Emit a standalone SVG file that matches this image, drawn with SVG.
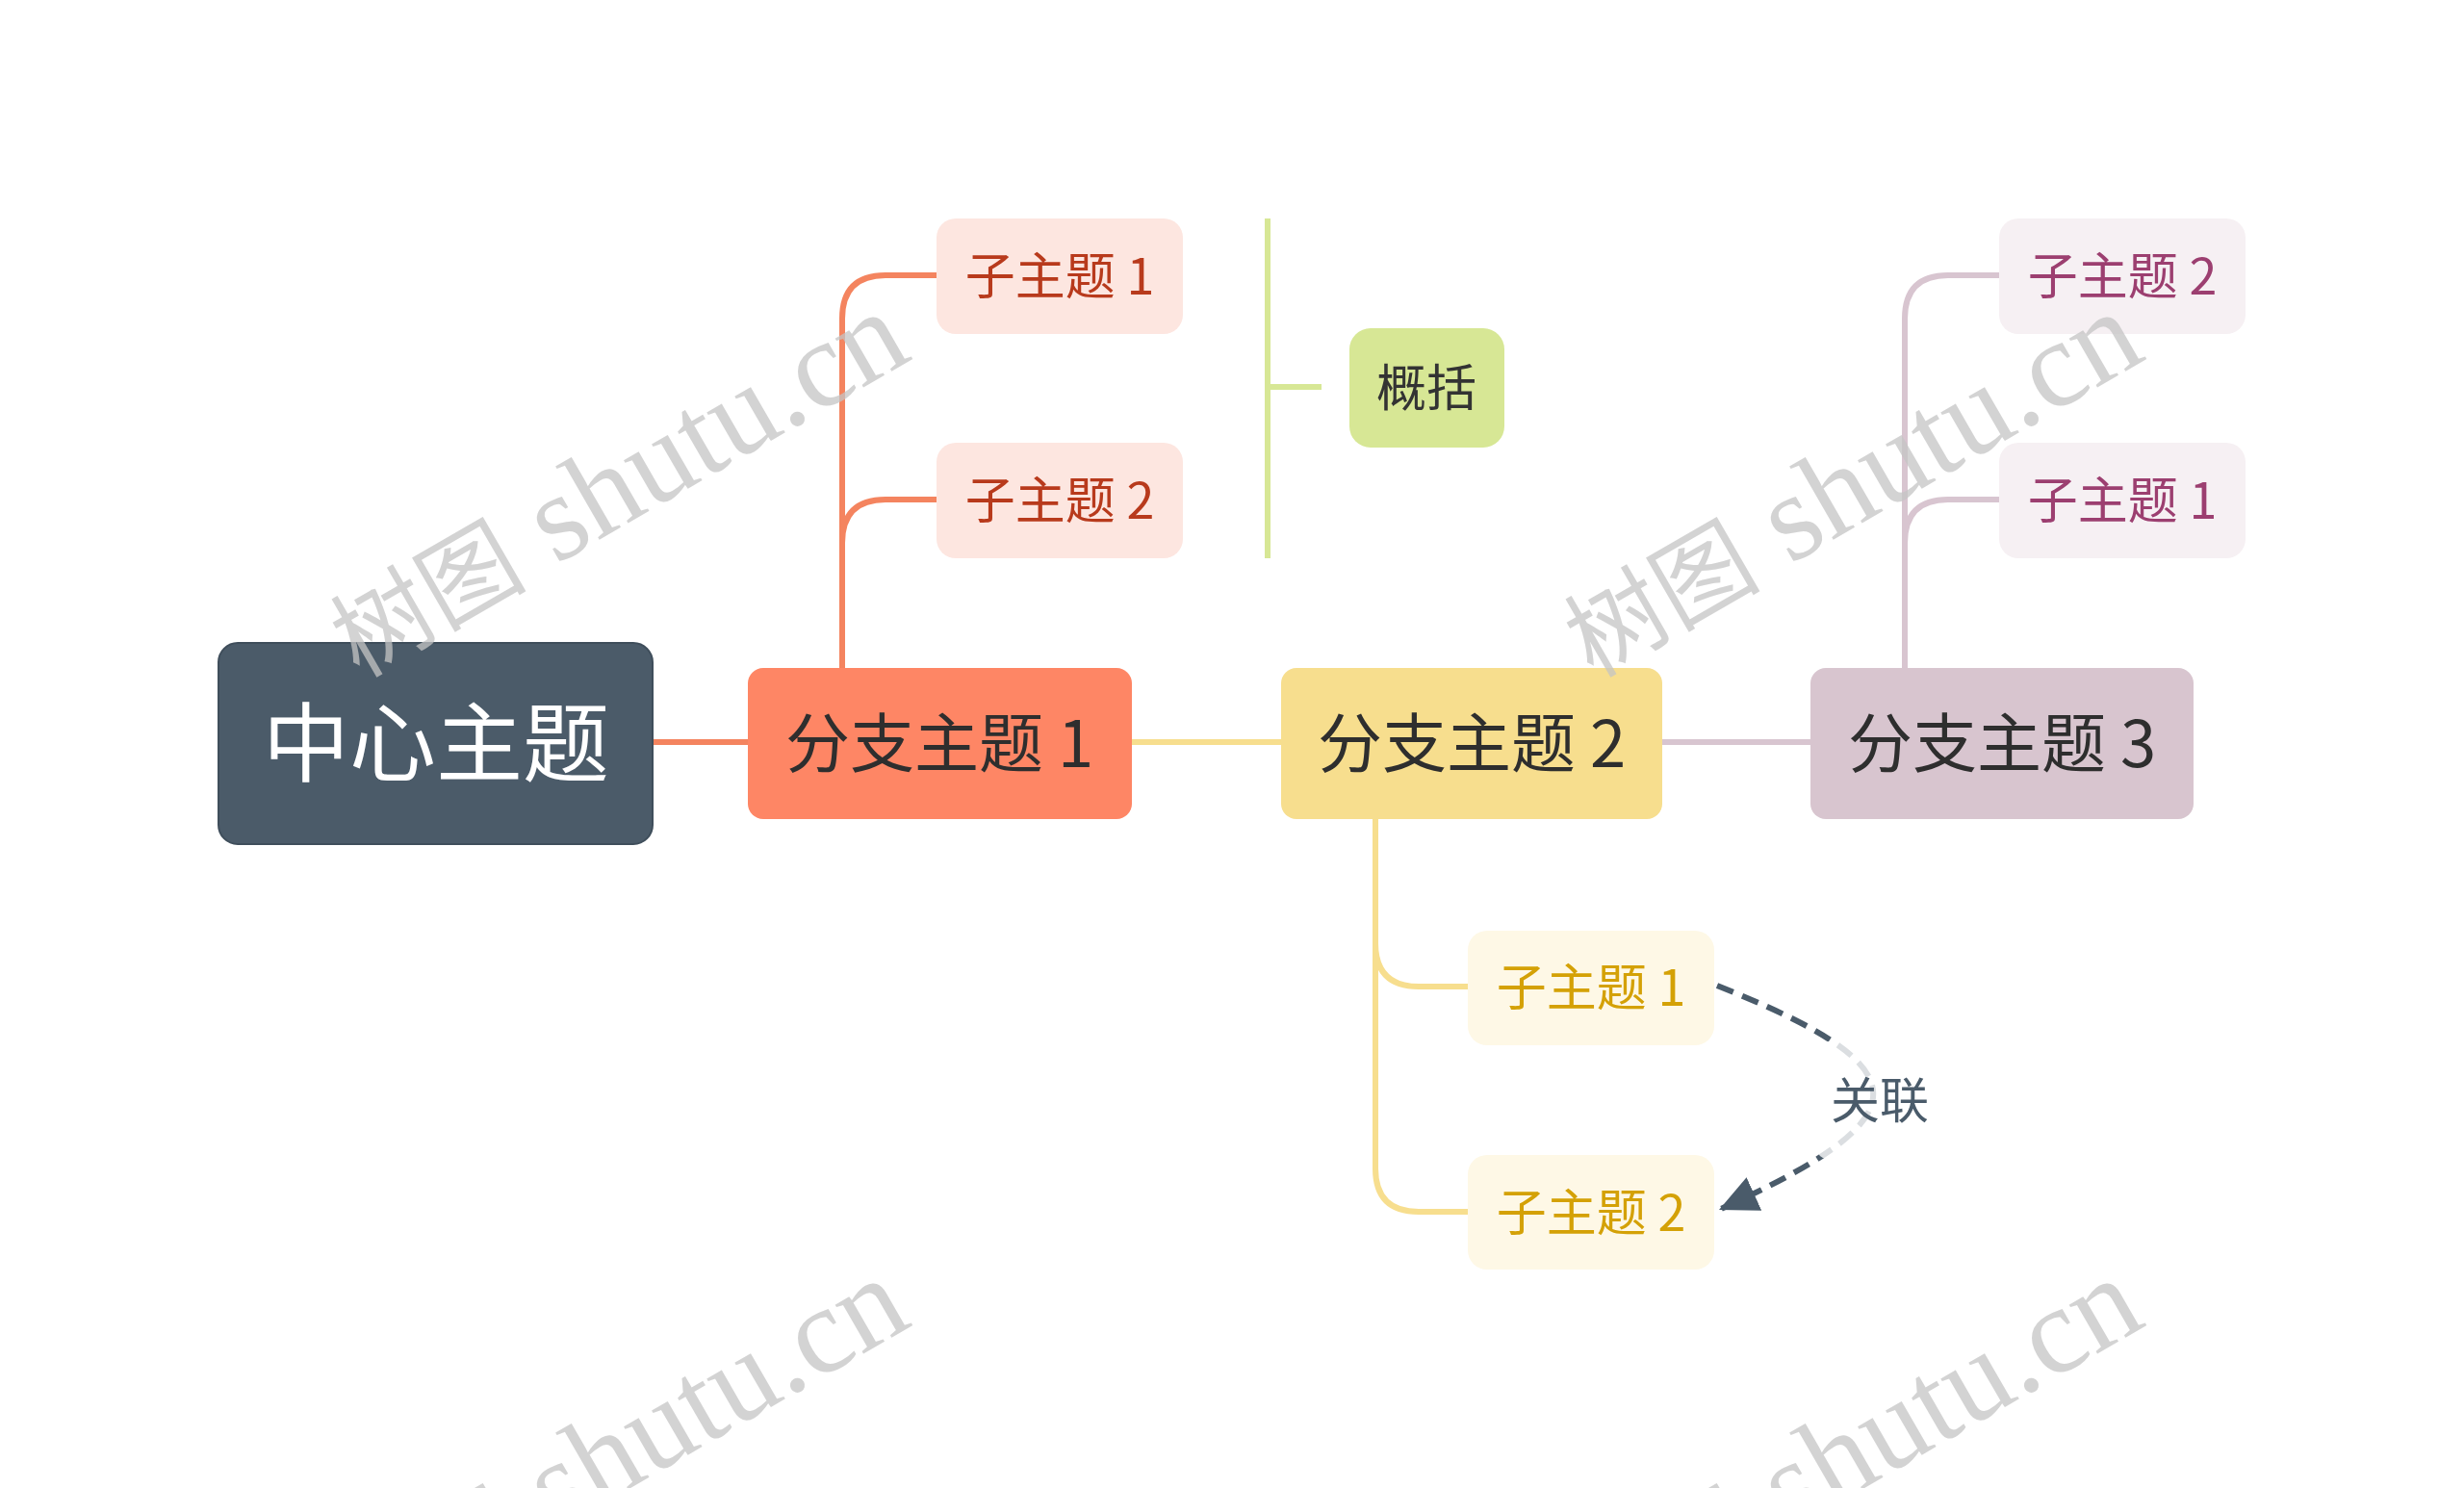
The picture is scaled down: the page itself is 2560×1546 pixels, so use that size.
<svg xmlns="http://www.w3.org/2000/svg" width="2560" height="1546" viewBox="0 0 2560 1546">
<style>
.t{font-family:"Noto Sans CJK SC","Noto Sans",sans-serif;text-anchor:middle}
.ln{fill:none;stroke-width:6;stroke-linecap:butt}
.wm{font-family:"Liberation Serif","Noto Sans CJK SC",serif;fill:#c4c4c4;fill-opacity:0.75}
.wc{font-size:102px}
.wl{font-size:128px}
</style>
<defs>
<marker id="arr" markerUnits="userSpaceOnUse" markerWidth="42" markerHeight="38" refX="40" refY="19" orient="auto">
<path d="M0,0 L40,19 L0,38 Z" fill="#4a5b6a"/>
</marker>
</defs>
<rect width="2560" height="1546" fill="#ffffff"/>
<g id="connectors">
<path class="ln" stroke="#f4845f" d="M678 771 H777"/>
<path class="ln" stroke="#f7de8e" d="M1176 771 H1331"/>
<path class="ln" stroke="#d8c5d0" d="M1727 771 H1881"/>
<path class="ln" stroke="#f4845f" d="M875 694 V331 Q875 286 920 286 H973"/>
<path class="ln" stroke="#f4845f" d="M875 694 V564 Q875 519 920 519 H973"/>
<path class="ln" stroke="#f7de8e" d="M1429 851 V980 Q1429 1025 1474 1025 H1525"/>
<path class="ln" stroke="#f7de8e" d="M1429 851 V1214 Q1429 1259 1474 1259 H1525"/>
<path class="ln" stroke="#d8c5d0" d="M1979 694 V331 Q1979 286 2024 286 H2077"/>
<path class="ln" stroke="#d8c5d0" d="M1979 694 V564 Q1979 519 2024 519 H2077"/>
<path class="ln" stroke="#d7e795" d="M1317 227 V580 M1317 402 H1373"/>
<path d="M1784 1024 C2000 1110 2000 1160 1786 1257" fill="none" stroke="#4a5b6a" stroke-width="6" stroke-dasharray="18 10" marker-end="url(#arr)"/>
</g>
<g id="rel-label">
<rect x="1888" y="1082" width="130" height="122" rx="10" fill="#ffffff" fill-opacity="0.8"/>
<text class="t" x="1953" y="1162" font-size="51" fill="#4a5b6a">关联</text>
</g>
<g id="central">
<rect x="227" y="668" width="451" height="209" rx="20" fill="#4b5b69" stroke="#3f4e5b" stroke-width="2"/>
<text class="t" x="453" y="805" font-size="90" fill="#ffffff">中心主题</text>
</g>
<g id="branch1">
<rect x="777" y="694" width="399" height="157" rx="16" fill="#fe8665"/>
<text class="t" x="976" y="797" font-size="67" fill="#2e2e2e">分支主题 1</text>
</g>
<g id="branch2">
<rect x="1331" y="694" width="396" height="157" rx="16" fill="#f7de8e"/>
<text class="t" x="1529" y="797" font-size="67" fill="#2e2e2e">分支主题 2</text>
</g>
<g id="branch3">
<rect x="1881" y="694" width="398" height="157" rx="16" fill="#d8c5cf"/>
<text class="t" x="2080" y="797" font-size="67" fill="#2e2e2e">分支主题 3</text>
</g>
<g id="b1-sub1">
<rect x="973" y="227" width="256" height="120" rx="20" fill="#fde6e0"/>
<text class="t" x="1101" y="306" font-size="52" fill="#b83a1c">子主题 1</text>
</g>
<g id="b1-sub2">
<rect x="973" y="460" width="256" height="120" rx="20" fill="#fde6e0"/>
<text class="t" x="1101" y="539" font-size="52" fill="#b83a1c">子主题 2</text>
</g>
<g id="summary">
<rect x="1402" y="341" width="161" height="124" rx="22" fill="#d7e795"/>
<text class="t" x="1482" y="422" font-size="52" fill="#333333">概括</text>
</g>
<g id="b2-sub1">
<rect x="1525" y="967" width="256" height="119" rx="20" fill="#fef8e6"/>
<text class="t" x="1653" y="1045" font-size="52" fill="#d4a106">子主题 1</text>
</g>
<g id="b2-sub2">
<rect x="1525" y="1200" width="256" height="119" rx="20" fill="#fef8e6"/>
<text class="t" x="1653" y="1279" font-size="52" fill="#d4a106">子主题 2</text>
</g>
<g id="b3-sub2">
<rect x="2077" y="227" width="256" height="120" rx="20" fill="#f6f0f3"/>
<text class="t" x="2205" y="306" font-size="52" fill="#9c3f70">子主题 2</text>
</g>
<g id="b3-sub1">
<rect x="2077" y="460" width="256" height="120" rx="20" fill="#f6f0f3"/>
<text class="t" x="2205" y="539" font-size="52" fill="#9c3f70">子主题 1</text>
</g>
<g id="watermarks">
<text class="wm" transform="translate(373 705) rotate(-30)"><tspan class="wc">树图</tspan><tspan class="wl"> shutu.cn</tspan></text>
<text class="wm" transform="translate(1655 705) rotate(-30)"><tspan class="wc">树图</tspan><tspan class="wl"> shutu.cn</tspan></text>
<text class="wm" transform="translate(373 1709) rotate(-30)"><tspan class="wc">树图</tspan><tspan class="wl"> shutu.cn</tspan></text>
<text class="wm" transform="translate(1655 1709) rotate(-30)"><tspan class="wc">树图</tspan><tspan class="wl"> shutu.cn</tspan></text>
</g>
</svg>
